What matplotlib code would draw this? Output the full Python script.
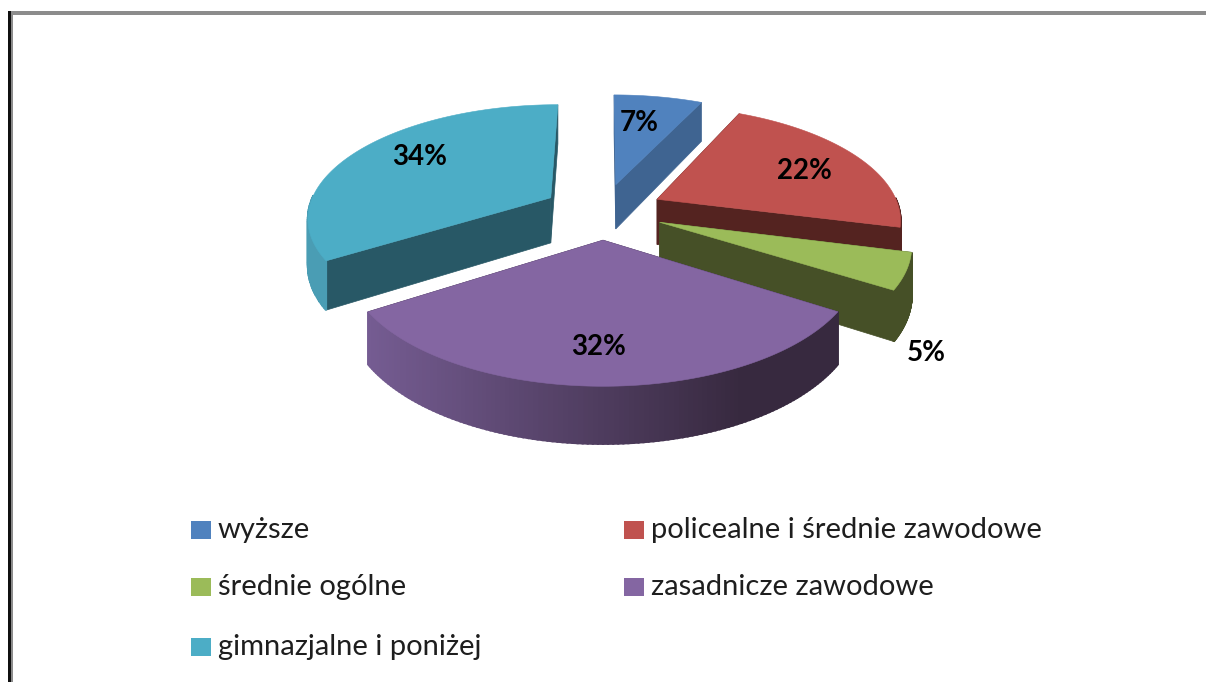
#!/usr/bin/env python3
# 3D exploded pie, projected by hand since plain matplotlib pie has no depth
import numpy as np
import matplotlib.pyplot as plt
from matplotlib.colors import to_rgb

plt.rcParams['font.family'] = ['Lato', 'DejaVu Sans']

labels = ['wyższe', 'policealne i średnie zawodowe', 'średnie ogólne',
          'zasadnicze zawodowe', 'gimnazjalne i poniżej']
values = [7, 22, 5, 32, 34]
top_colors = ['#5082BE', '#C0524F', '#9BBB59', '#8466A2', '#4CADC6']
cut_colors = ['#3F6491', '#542320', '#465027', '#3A2B47', '#285866']
rim_left = ['#3F6491', '#8F3D3A', '#465027', '#755C92', '#4A9DB4']
rim_right = ['#3F6491', '#542320', '#465027', '#37293F', '#4A9DB4']

# order the wedges are painted in, back to front
paint_order = [4, 0, 1, 2, 3]
# where the percent text goes
pct_pos = [(639, 123), (804, 171), (926, 353), (599, 347), (420, 157)]
legend_pos = [(191, 530), (624, 530), (191, 587), (624, 587), (191, 647)]

cx, cy = 603, 211
c, b, a = 243, 112, 0.161
depth = 46
explode = 0.25


def project(X, Y, z=0.0):
    s = 1 / (1 - a * Y)
    return cx + c * X * s, cy + b * Y * s + z * depth * s


def wedge_geom(t0, t1):
    mid = (t0 + t1) / 2
    ox, oy = explode * np.sin(mid), -explode * np.cos(mid)
    th = np.linspace(t0, t1, 121)
    return ox, oy, th


def draw_wedge(ax, i, t0, t1):
    ox, oy, th = wedge_geom(t0, t1)
    X = ox + np.sin(th)
    Y = oy - np.cos(th)
    tx, ty = project(X, Y)
    bx, by = project(X, Y, 1)
    ax_t, ay_t = project(ox, oy)
    ax_b, ay_b = project(ox, oy, 1)
    # cut faces
    for k in (0, -1):
        ax.fill([ax_t, tx[k], bx[k], ax_b], [ay_t, ty[k], by[k], ay_b],
                color=cut_colors[i], lw=0.5, zorder=1)
    # rim, split in strips so the shading can run left to right
    c0, c1 = np.array(to_rgb(rim_left[i])), np.array(to_rgb(rim_right[i]))
    lo, hi = tx.min(), tx.max()
    for k in range(len(th) - 1):
        # back half of the rim is hidden behind the top
        if np.cos(th[k]) > 0.02:
            continue
        f = np.clip((tx[k] - lo) / max(hi - lo, 1) / 0.8, 0, 1)
        ax.fill([tx[k], tx[k + 1], bx[k + 1], bx[k]],
                [ty[k], ty[k + 1], by[k + 1], by[k]],
                color=tuple(c0 + (c1 - c0) * f), lw=1.5, zorder=1)
    ax.fill(np.r_[ax_t, tx], np.r_[ay_t, ty], color=top_colors[i], lw=0.4, zorder=1)


fig = plt.figure(figsize=(12.06, 6.82), dpi=100)
ax = fig.add_axes([0, 0, 1, 1])
ax.set_xlim(0, 1206)
ax.set_ylim(682, 0)
ax.axis('off')

# frame of the screenshot
ax.fill([8, 1206, 1206, 8], [11, 11, 14.5, 14.5], color='#8C8C8C', lw=0)
ax.fill([10, 13, 13, 10], [11, 11, 682, 682], color='#8C8C8C', lw=0)
ax.fill([8, 10.5, 10.5, 8], [11, 11, 682, 682], color='#101010', lw=0)

edges = np.r_[0, np.cumsum(values)] / np.sum(values) * 2 * np.pi
for i in paint_order:
    draw_wedge(ax, i, edges[i], edges[i + 1])

for i, v in enumerate(values):
    ax.text(*pct_pos[i], f'{v}%', fontsize=20, fontweight='bold', color='black',
            ha='center', va='center', zorder=3)

for i, name in enumerate(labels):
    x, y = legend_pos[i]
    ax.fill([x, x + 20, x + 20, x], [y - 9, y - 9, y + 9, y + 9],
            color=top_colors[i], lw=0, zorder=2)
    ax.text(x + 27, y, name, fontsize=21, color='#1E1E1E', ha='left', va='center', zorder=3)

fig.savefig('out.png', dpi=100)
